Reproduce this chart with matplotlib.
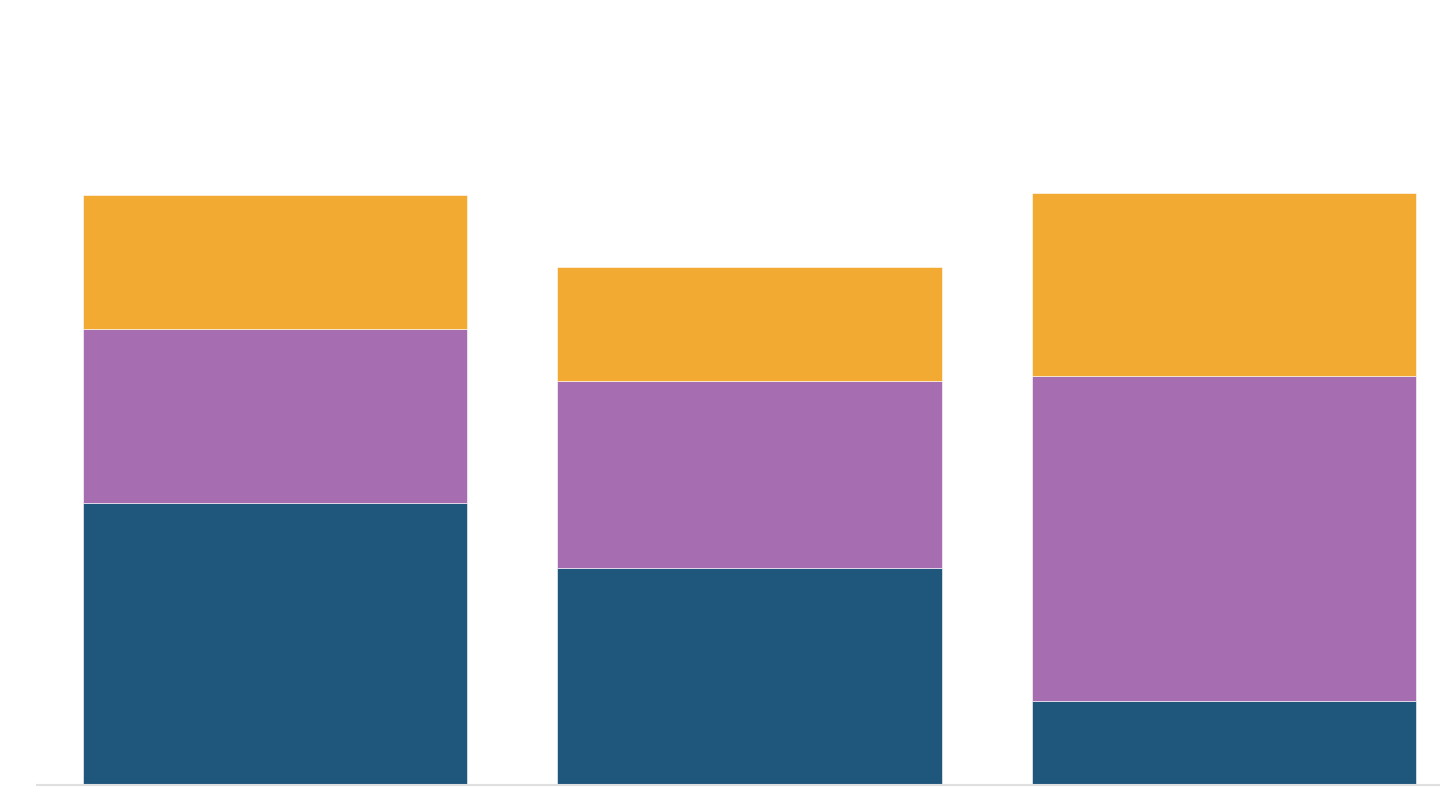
import matplotlib
matplotlib.use('Agg')
import matplotlib.pyplot as plt
import numpy as np

# categorias e valores
categorias = ['A', 'B', 'C']
serie_azul = [282, 217, 84]
serie_roxa = [174, 187, 325]
serie_laranja = [134, 114, 183]

cores = ['#1F577C', '#A66DB0', '#F2AA33']

fig = plt.figure(figsize=(14.4, 8.1), dpi=100)
ax = fig.add_axes([37 / 1440, 25 / 810, 1 - 37 / 1440, 785 / 810])

x = np.arange(len(categorias))
largura = 0.81

base = np.zeros(len(categorias))
for valores, cor in zip([serie_azul, serie_roxa, serie_laranja], cores):
    ax.bar(x, valores, largura, bottom=base, color=cor,
           edgecolor='white', linewidth=0.4)
    base = base + np.array(valores)

ax.set_xlim(-0.5016, 2.455)
ax.set_ylim(0, 785)

# linha de base cinza clara
for lado in ['top', 'right', 'left']:
    ax.spines[lado].set_visible(False)
ax.spines['bottom'].set_color('#E0E0E0')
ax.spines['bottom'].set_linewidth(1.5)
ax.set_xticks([])
ax.set_yticks([])

plt.savefig('out.png', dpi=100)
